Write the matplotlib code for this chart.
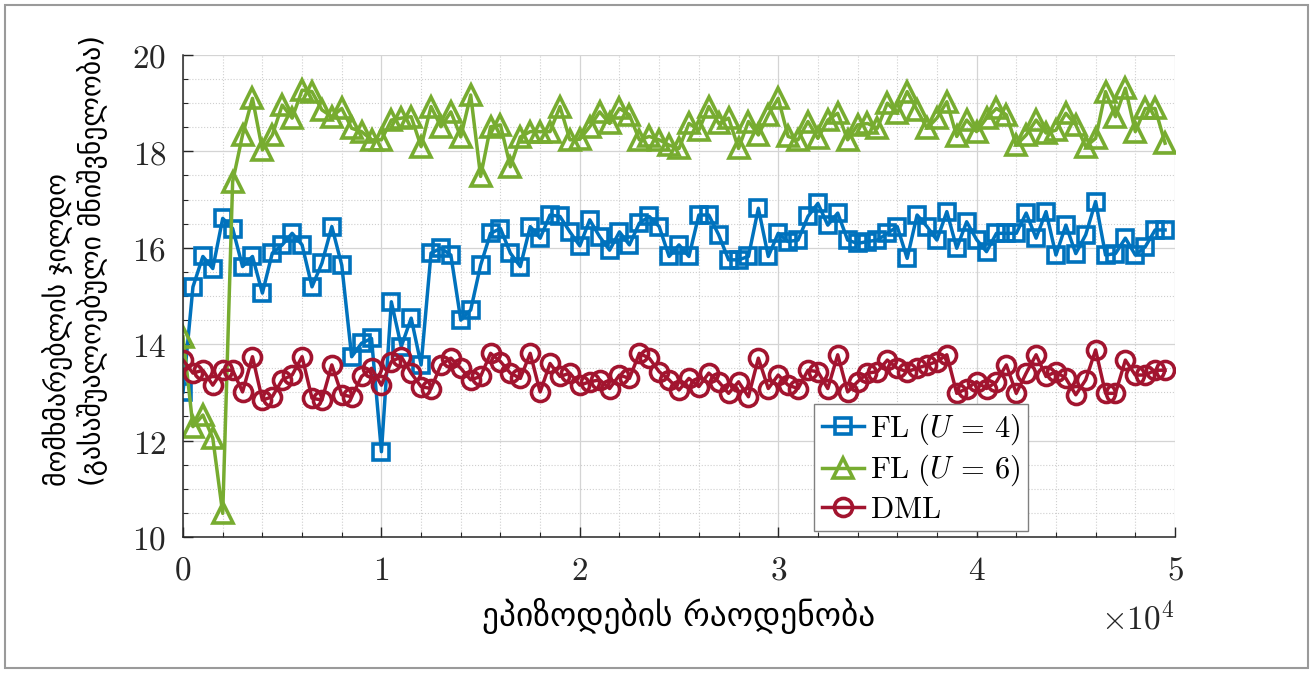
import numpy as np
import matplotlib
matplotlib.use("Agg")
from matplotlib import pyplot as plt
from matplotlib.patches import Rectangle
from matplotlib.ticker import MultipleLocator

plt.rcParams['mathtext.fontset'] = 'cm'

# episodes, one point every 500
episodes = np.arange(0, 50000, 500)

fl_u4 = [13.01, 15.19, 15.82, 15.57, 16.61, 16.40, 15.61, 15.82, 15.06, 15.89,
         16.06, 16.30, 16.06, 15.19, 15.68, 16.44, 15.64, 13.74, 14.02, 14.12,
         11.77, 14.88, 13.95, 14.54, 13.57, 15.89, 15.99, 15.85, 14.50, 14.71,
         15.64, 16.30, 16.40, 15.89, 15.61, 16.44, 16.20, 16.68, 16.65, 16.33,
         16.04, 16.58, 16.23, 15.95, 16.33, 16.06, 16.51, 16.65, 16.44, 15.82,
         16.06, 15.82, 16.68, 16.68, 16.27, 15.75, 15.75, 15.82, 16.82, 15.82,
         16.30, 16.13, 16.16, 16.65, 16.92, 16.47, 16.72, 16.16, 16.09, 16.13,
         16.16, 16.30, 16.44, 15.78, 16.68, 16.44, 16.16, 16.75, 15.99, 16.54,
         16.17, 15.92, 16.30, 16.30, 16.30, 16.72, 16.20, 16.75, 15.85, 16.47,
         15.88, 16.27, 16.96, 15.85, 15.88, 16.20, 15.85, 16.02, 16.37, 16.37]

fl_u6 = [14.15, 12.29, 12.53, 12.05, 10.49, 17.37, 18.34, 19.10, 18.03, 18.34,
         18.96, 18.69, 19.27, 19.24, 18.86, 18.72, 18.89, 18.48, 18.41, 18.24,
         18.24, 18.65, 18.69, 18.72, 18.10, 18.93, 18.51, 18.82, 18.30, 19.17,
         17.48, 18.51, 18.55, 17.68, 18.30, 18.41, 18.41, 18.41, 18.93, 18.24,
         18.25, 18.51, 18.82, 18.58, 18.89, 18.76, 18.24, 18.31, 18.24, 18.13,
         18.06, 18.58, 18.44, 18.93, 18.58, 18.69, 18.06, 18.62, 18.34, 18.76,
         19.10, 18.31, 18.24, 18.62, 18.27, 18.65, 18.79, 18.24, 18.55, 18.58,
         18.48, 19.00, 18.79, 19.24, 18.86, 18.48, 18.69, 19.03, 18.31, 18.65,
         18.41, 18.69, 18.89, 18.76, 18.13, 18.34, 18.65, 18.38, 18.44, 18.79,
         18.55, 18.10, 18.27, 19.24, 18.72, 19.31, 18.41, 18.89, 18.89, 18.17]

dml = [13.67, 13.40, 13.46, 13.15, 13.46, 13.46, 13.01, 13.74, 12.84, 12.91,
       13.26, 13.36, 13.74, 12.88, 12.84, 13.57, 12.95, 12.91, 13.33, 13.50,
       13.15, 13.64, 13.74, 13.40, 13.12, 13.08, 13.57, 13.71, 13.50, 13.26,
       13.33, 13.81, 13.64, 13.40, 13.29, 13.81, 13.01, 13.60, 13.33, 13.40,
       13.15, 13.22, 13.26, 13.08, 13.36, 13.29, 13.81, 13.71, 13.43, 13.26,
       13.05, 13.29, 13.12, 13.40, 13.22, 12.98, 13.22, 12.91, 13.71, 13.08,
       13.36, 13.15, 13.08, 13.46, 13.43, 13.08, 13.78, 13.01, 13.22, 13.40,
       13.43, 13.67, 13.50, 13.43, 13.50, 13.57, 13.64, 13.78, 12.98, 13.08,
       13.22, 13.08, 13.22, 13.57, 12.98, 13.40, 13.78, 13.33, 13.43, 13.29,
       12.95, 13.26, 13.88, 12.98, 12.98, 13.67, 13.36, 13.36, 13.46, 13.46]

x_ticks = [0, 10000, 20000, 30000, 40000, 50000]
x_ticklabels = ['0', '1', '2', '3', '4', '5']
y_ticks = [10, 12, 14, 16, 18, 20]

fig = plt.figure(figsize=(13.14, 6.73), dpi=100)
ax = fig.add_axes([0.1393, 0.2021, 0.7549, 0.7162])

ax.plot(episodes, fl_u4, '-s', color='#0072BD', lw=2.5, ms=12, mfc='none',
        mew=2.6, label=r'$\mathrm{FL}\ (U\,=\,4)$')
ax.plot(episodes, fl_u6, '-^', color='#77AC30', lw=2.5, ms=14, mfc='none',
        mew=2.6, label=r'$\mathrm{FL}\ (U\,=\,6)$')
ax.plot(episodes, dml, '-o', color='#A2142F', lw=2.5, ms=13, mfc='none',
        mew=2.6, label=r'$\mathrm{DML}$')

ax.set_xlim(0, 50000)
ax.set_ylim(10, 20)
ax.set_xticks(x_ticks)
ax.set_xticklabels(['$%s$' % t for t in x_ticklabels])
ax.set_yticks(y_ticks)
ax.set_yticklabels(['$%d$' % t for t in y_ticks])
ax.xaxis.set_minor_locator(MultipleLocator(2000))
ax.yaxis.set_minor_locator(MultipleLocator(0.5))

ax.grid(True, which='major', color='#d4d4d4', lw=0.9, ls='-')
ax.grid(True, which='minor', color='#cfcfcf', lw=0.8, ls=':')
ax.set_axisbelow(True)

for s in ['top', 'right']:
    ax.spines[s].set_visible(False)
for s in ['left', 'bottom']:
    ax.spines[s].set_color('#262626')
    ax.spines[s].set_linewidth(1.1)

ax.tick_params(which='major', direction='in', length=7, width=1, colors='#262626',
               labelsize=24, pad=12, labelcolor='#262626')
ax.tick_params(which='minor', direction='in', length=3.5, width=0.8, colors='#262626')

ax.text(1.0, -0.135, r'$\times 10^{4}$', transform=ax.transAxes, ha='right',
        va='top', fontsize=24, color='#262626')

ax.set_xlabel('ეპიზოდების რაოდენობა', fontsize=24, family='DejaVu Sans',
              labelpad=8)
fig.text(75 / 1314, 1 - 261 / 673,
         'მომხმარებლის ჯილდო\n(გასაშუალოებული მნიშვნელობა)',
         rotation=90, ha='center', va='center', multialignment='left',
         fontsize=20, family='DejaVu Sans', linespacing=1.15)

leg = ax.legend(loc='lower left', bbox_to_anchor=(0.636, 0.012), fontsize=22,
                handlelength=1.4, handletextpad=0.2, borderpad=0.25,
                labelspacing=0.2, borderaxespad=0, fancybox=False,
                framealpha=1, edgecolor='#808080')
leg.get_frame().set_linewidth(1.0)

fig.patches.append(Rectangle((5 / 1314, 5 / 673), 1303 / 1314, 663 / 673,
                             transform=fig.transFigure, fill=False,
                             edgecolor='#9a9a9a', lw=1.5))

fig.savefig('out.png', dpi=100)
